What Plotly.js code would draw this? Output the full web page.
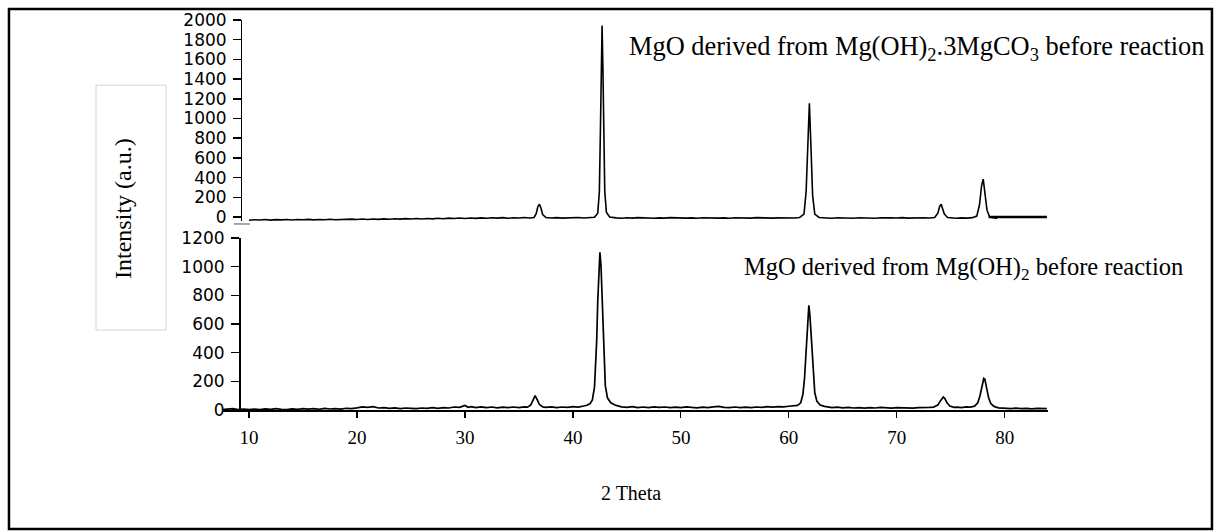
<!DOCTYPE html>
<html>
<head>
<meta charset="utf-8">
<script src="https://cdn.plot.ly/plotly-3.0.1.min.js"></script>
<style>html,body{margin:0;padding:0;background:#fff;}#chart{width:1222px;height:531px;}</style>
</head>
<body>
<div id="chart"></div>
<script>
// Top pattern: MgO derived from Mg(OH)2.3MgCO3 (2theta, intensity)
const topPattern = [[10.0,-32],[10.5,-27],[11.0,-30],[11.5,-25],[12.0,-31],[12.5,-26],[13.0,-29],[13.5,-24],[14.0,-30],[14.5,-25],[15.0,-28],[15.5,-23],[16.0,-29],[16.5,-24],[17.0,-27],[17.5,-22],[18.0,-27],[18.5,-23],[19.0,-26],[19.5,-21],[20.0,-25],[20.5,-20],[21.0,-24],[21.5,-19],[22.0,-23],[22.5,-18],[23.0,-22],[23.5,-17],[24.0,-21],[24.5,-16],[25.0,-20],[25.5,-15],[26.0,-19],[26.5,-14],[27.0,-18],[27.5,-12],[28.0,-17],[28.5,-11],[29.0,-15],[29.5,-10],[30.0,-14],[30.5,-9],[31.0,-13],[31.5,-8],[32.0,-12],[32.5,-7],[33.0,-11],[33.5,-6],[34.0,-12],[34.5,-7],[35.0,-10],[35.5,-5],[36.0,-9],[36.4,-4],[36.6,35],[36.75,105],[36.9,130],[37.05,90],[37.2,25],[37.5,-5],[38.0,-10],[38.5,-6],[39.0,-11],[39.5,-7],[40.0,-10],[40.5,-5],[41.0,-9],[41.5,-4],[42.0,-2],[42.3,40],[42.45,260],[42.55,900],[42.62,1550],[42.7,1945],[42.78,1500],[42.85,850],[42.95,260],[43.1,50],[43.4,0],[44.0,-8],[44.5,-12],[45.0,-7],[45.5,-11],[46.0,-6],[46.5,-10],[47.0,-7],[47.5,-12],[48.0,-8],[48.5,-11],[49.0,-6],[49.5,-10],[50.0,-7],[50.5,-11],[51.0,-8],[51.5,-12],[52.0,-7],[52.5,-10],[53.0,-6],[53.5,-11],[54.0,-8],[54.5,-12],[55.0,-7],[55.5,-10],[56.0,-8],[56.5,-11],[57.0,-6],[57.5,-10],[58.0,-7],[58.5,-11],[59.0,-8],[59.5,-10],[60.0,-6],[60.5,-9],[61.0,-4],[61.4,30],[61.6,260],[61.75,760],[61.9,1155],[62.05,700],[62.2,220],[62.4,30],[62.8,-4],[63.5,-9],[64.0,-12],[64.5,-7],[65.0,-11],[65.5,-8],[66.0,-12],[66.5,-7],[67.0,-10],[67.5,-8],[68.0,-12],[68.5,-7],[69.0,-11],[69.5,-8],[70.0,-10],[70.5,-6],[71.0,-11],[71.5,-8],[72.0,-12],[72.5,-7],[73.0,-10],[73.5,-4],[73.8,40],[73.95,105],[74.1,130],[74.25,90],[74.4,30],[74.7,-4],[75.0,-9],[75.5,-12],[76.0,-8],[76.5,-11],[77.0,-6],[77.4,10],[77.65,120],[77.85,320],[78.0,385],[78.15,260],[78.35,70],[78.6,0],[79.0,-10],[79.3,-13]];
// Flat tail segment drawn after the top pattern
const topTail = [[78.5,0],[83.9,0]];

// Bottom pattern: MgO derived from Mg(OH)2 (2theta, intensity)
const bottomPattern = [[7.5,2],[8.0,5],[8.5,9],[9.0,3],[9.5,6],[10.0,2],[10.5,7],[11.0,3],[11.5,8],[12.0,4],[12.5,9],[13.0,5],[13.5,3],[14.0,8],[14.5,5],[15.0,10],[15.5,6],[16.0,9],[16.5,5],[17.0,11],[17.5,7],[18.0,10],[18.5,6],[19.0,12],[19.5,9],[20.0,15],[20.5,22],[21.0,18],[21.5,24],[22.0,14],[22.5,17],[23.0,11],[23.5,15],[24.0,10],[24.5,14],[25.0,12],[25.5,9],[26.0,14],[26.5,11],[27.0,16],[27.5,12],[28.0,17],[28.5,14],[29.0,21],[29.5,18],[30.0,32],[30.3,19],[30.6,24],[31.0,17],[31.5,22],[32.0,16],[32.5,21],[33.0,15],[33.5,20],[34.0,16],[34.5,21],[35.0,17],[35.5,22],[35.8,20],[36.1,35],[36.3,65],[36.5,100],[36.7,70],[36.9,38],[37.2,22],[37.5,18],[38.0,22],[38.5,17],[39.0,21],[39.5,18],[40.0,24],[40.5,20],[41.0,28],[41.3,33],[41.6,45],[41.8,70],[42.0,160],[42.1,280],[42.2,480],[42.3,760],[42.4,1000],[42.5,1100],[42.6,1010],[42.7,780],[42.8,500],[42.9,290],[43.0,170],[43.2,85],[43.5,50],[44.0,32],[44.5,22],[45.0,19],[45.5,23],[46.0,17],[46.5,21],[47.0,16],[47.5,22],[48.0,18],[48.5,21],[49.0,16],[49.5,20],[50.0,17],[50.5,22],[51.0,18],[51.5,15],[52.0,20],[52.5,17],[53.0,22],[53.5,25],[54.0,18],[54.5,16],[55.0,21],[55.5,17],[56.0,20],[56.5,16],[57.0,21],[57.5,18],[58.0,23],[58.5,20],[59.0,24],[59.5,22],[60.0,26],[60.4,27],[60.8,32],[61.1,50],[61.3,110],[61.45,220],[61.6,420],[61.75,640],[61.85,730],[61.95,660],[62.1,450],[62.25,250],[62.4,120],[62.6,60],[62.9,35],[63.3,25],[63.7,19],[64.0,16],[64.5,20],[65.0,15],[65.5,18],[66.0,14],[66.5,17],[67.0,13],[67.5,17],[68.0,14],[68.5,18],[69.0,15],[69.5,13],[70.0,17],[70.5,14],[71.0,16],[71.5,13],[72.0,17],[72.5,15],[73.0,18],[73.4,20],[73.8,35],[74.0,60],[74.2,85],[74.3,90],[74.45,80],[74.65,50],[74.9,28],[75.3,18],[75.6,20],[76.0,17],[76.4,22],[76.8,20],[77.2,27],[77.5,50],[77.7,100],[77.9,180],[78.05,220],[78.15,215],[78.3,160],[78.5,85],[78.7,45],[79.0,25],[79.4,15],[79.8,12],[80.2,14],[80.6,10],[81.0,13],[81.5,9],[82.0,12],[82.5,8],[83.0,11],[83.5,7],[83.9,9]];

const xTicks = [10,20,30,40,50,60,70,80];
const topYTicks = [0,200,400,600,800,1000,1200,1400,1600,1800,2000];
const bottomYTicks = [0,200,400,600,800,1000,1200];

const topLabel = 'MgO derived from Mg(OH)<sub>2</sub>.3MgCO<sub>3</sub> before reaction';
const bottomLabel = 'MgO derived from Mg(OH)<sub>2</sub> before reaction';
const xTitle = '2 Theta';
const yTitle = 'Intensity (a.u.)';

const col = (arr, i) => arr.map(p => p[i]);

const traces = [
  {x: col(bottomPattern,0), y: col(bottomPattern,1), xaxis:'x', yaxis:'y', mode:'lines',
   line:{color:'#000', width:1.7}, hoverinfo:'skip'},
  {x: col(topPattern,0), y: col(topPattern,1), xaxis:'x', yaxis:'y2', mode:'lines',
   line:{color:'#000', width:1.6}, hoverinfo:'skip'},
  {x: col(topTail,0), y: col(topTail,1), xaxis:'x', yaxis:'y2', mode:'lines',
   line:{color:'#000', width:2.5}, hoverinfo:'skip'}
];

const serif = 'Liberation Serif, Times New Roman, serif';
const tickFont = {family:'DejaVu Sans, sans-serif', size:17, color:'#000'};

const layout = {
  width:1222, height:531,
  margin:{l:222, r:174, t:20, b:121},
  paper_bgcolor:'#fff', plot_bgcolor:'rgba(0,0,0,0)',
  showlegend:false,
  xaxis:{range:[7.5,84.0], domain:[0,1], anchor:'y', tickvals:xTicks, ticks:'outside', ticklen:6, tickwidth:1.2,
         tickcolor:'#000', showline:true, linecolor:'#000', linewidth:1.5, showgrid:false, zeroline:false,
         tickfont:{family:serif, size:19, color:'#000'}, ticklabelstandoff:4},
  yaxis:{range:[0,1200], domain:[0,0.441], anchor:'free', position:0.0206,
         tickvals:bottomYTicks, ticks:'outside', ticklen:8, tickwidth:1.5, tickcolor:'#000',
         showline:true, linecolor:'#000', linewidth:1.5, showgrid:false, zeroline:false,
         tickfont:tickFont, ticklabelstandoff:3},
  yaxis2:{range:[-40,2000], domain:[0.4846,1], anchor:'free', position:0.023,
          tickvals:topYTicks, ticks:'outside', ticklen:8, tickwidth:1.5, tickcolor:'#000',
          showline:true, linecolor:'#000', linewidth:1.5, showgrid:false, zeroline:false,
          tickfont:tickFont, ticklabelstandoff:3},
  shapes:[
    {type:'rect', xref:'paper', yref:'paper', x0:-0.2579, x1:1.1985, y0:-0.305, y1:1.028,
     line:{color:'#000', width:2.5}, fillcolor:'rgba(0,0,0,0)'},
    {type:'rect', xref:'paper', yref:'paper', x0:-0.1525, x1:-0.0678, y0:0.205, y1:0.833,
     line:{color:'#d4d4d4', width:1}, fillcolor:'rgba(0,0,0,0)'},
    {type:'line', xref:'paper', yref:'paper', x0:0.0145, x1:0.0339, y0:0.477, y1:0.477,
     line:{color:'#8a8a8a', width:1.5}}
  ],
  annotations:[
    {text:topLabel, xref:'paper', yref:'paper', x:0.4903, y:0.928, xanchor:'left', yanchor:'middle',
     showarrow:false, font:{family:serif, size:26.4, color:'#000'}},
    {text:bottomLabel, xref:'paper', yref:'paper', x:0.6295, y:0.364, xanchor:'left', yanchor:'middle',
     showarrow:false, font:{family:serif, size:24.5, color:'#000'}},
    {text:xTitle, xref:'paper', yref:'paper', x:0.495, y:-0.2128, xanchor:'center', yanchor:'middle',
     showarrow:false, font:{family:serif, size:20, color:'#000'}},
    {text:yTitle, xref:'paper', yref:'paper', x:-0.1199, y:0.518, xanchor:'center', yanchor:'middle',
     textangle:-90, showarrow:false, font:{family:serif, size:24, color:'#000'}}
  ]
};

Plotly.newPlot('chart', traces, layout, {displayModeBar:false, staticPlot:true});
</script>
</body>
</html>
